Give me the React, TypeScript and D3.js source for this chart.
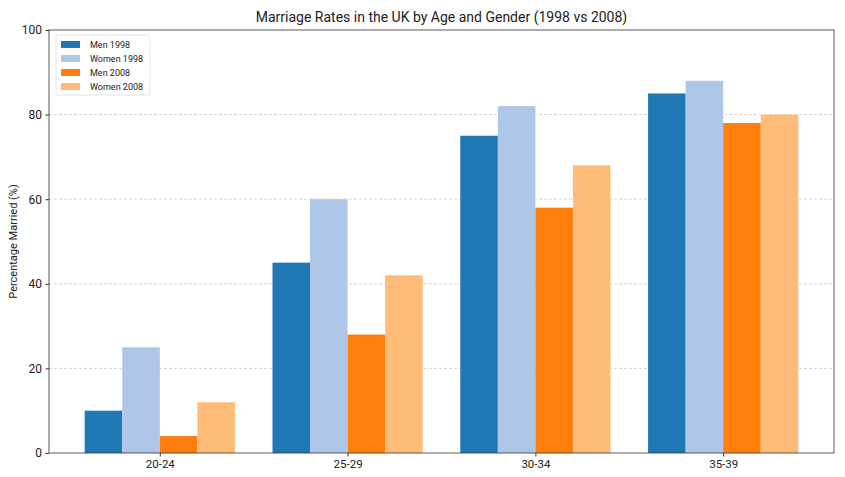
import React, { useEffect, useRef } from "react";
import * as d3 from "d3";

const ageGroups = ["20-24", "25-29", "30-34", "35-39"];
const seriesNames = ["Men 1998", "Women 1998", "Men 2008", "Women 2008"];
const men1998 = [10, 45, 75, 85];
const women1998 = [25, 60, 82, 88];
const men2008 = [4, 28, 58, 78];
const women2008 = [12, 42, 68, 80];
const yTicks = [0, 20, 40, 60, 80, 100];
const colors = ["#1f77b4", "#aec7e8", "#ff7f0e", "#ffbb78"];

const FONT = "Roboto, 'DejaVu Sans', sans-serif";

const App = () => {
  const svgRef = useRef<SVGSVGElement | null>(null);

  useEffect(() => {
    if (!svgRef.current) return;
    const root = d3.select(svgRef.current);
    root.selectAll("*").remove();

    const W = 845;
    const H = 477;
    const margin = { top: 30, right: 11, bottom: 24, left: 49 };
    const width = W - margin.left - margin.right;
    const height = H - margin.top - margin.bottom;

    const series = [men1998, women1998, men2008, women2008];
    const barW = 0.2;

    const x = d3.scaleLinear().domain([-0.59, 3.59]).range([0, width]);
    const y = d3.scaleLinear().domain([0, 100]).range([height, 0]);

    const g = root.append("g").attr("transform", `translate(${margin.left},${margin.top})`);

    // grid
    g.selectAll("line.grid")
      .data(yTicks.filter(t => t > 0 && t < 100))
      .enter()
      .append("line")
      .attr("x1", 0)
      .attr("x2", width)
      .attr("y1", d => y(d))
      .attr("y2", d => y(d))
      .attr("stroke", "#cccccc")
      .attr("stroke-width", 0.8)
      .attr("stroke-dasharray", "3,2");

    // bars
    series.forEach((vals, si) => {
      const offset = (si - 1.5) * barW;
      g.selectAll(`rect.s${si}`)
        .data(vals)
        .enter()
        .append("rect")
        .attr("x", (_, i) => x(i + offset - barW / 2))
        .attr("y", d => y(d))
        .attr("width", x(barW) - x(0))
        .attr("height", d => height - y(d))
        .attr("fill", colors[si]);
    });

    // frame
    g.append("rect")
      .attr("width", width)
      .attr("height", height)
      .attr("fill", "none")
      .attr("stroke", "#333")
      .attr("stroke-width", 0.8);

    // y axis
    const yAxis = g.append("g").call(d3.axisLeft(y).tickValues(yTicks).tickSize(3.5).tickPadding(3.5));
    yAxis.select(".domain").remove();
    yAxis.selectAll("line").attr("stroke", "#333");
    yAxis.selectAll("text").style("font-family", FONT).style("font-size", "12px").attr("fill", "#222");

    // x axis
    const xAxis = g.append("g")
      .attr("transform", `translate(0,${height})`)
      .call(d3.axisBottom(x).tickValues(ageGroups.map((_, i) => i)).tickFormat((_, i) => ageGroups[i]).tickSize(3.5).tickPadding(3.5));
    xAxis.select(".domain").remove();
    xAxis.selectAll("line").attr("stroke", "#333");
    xAxis.selectAll("text").style("font-family", FONT).style("font-size", "11.5px").attr("fill", "#222");

    // title
    root.append("text")
      .attr("x", margin.left + width / 2)
      .attr("y", 22)
      .attr("text-anchor", "middle")
      .style("font-family", FONT)
      .style("font-size", "14px")
      .attr("fill", "#222")
      .text("Marriage Rates in the UK by Age and Gender (1998 vs 2008)");

    // axis labels
    root.append("text")
      .attr("transform", `translate(17,${margin.top + height / 2}) rotate(-90)`)
      .attr("text-anchor", "middle")
      .style("font-family", FONT)
      .style("font-size", "11px")
      .attr("fill", "#222")
      .text("Percentage Married (%)");

    root.append("text")
      .attr("x", margin.left + width / 2)
      .attr("y", 484)
      .attr("text-anchor", "middle")
      .style("font-family", FONT)
      .style("font-size", "11px")
      .attr("fill", "#222")
      .text("Age Group");

    // legend
    const legend = g.append("g").attr("transform", "translate(7,5)");
    legend.append("rect")
      .attr("width", 94)
      .attr("height", 60)
      .attr("rx", 2)
      .attr("fill", "#fff")
      .attr("fill-opacity", 0.8)
      .attr("stroke", "#ddd")
      .attr("stroke-width", 0.8);
    seriesNames.forEach((name, i) => {
      const row = legend.append("g").attr("transform", `translate(5,${6 + i * 14})`);
      row.append("rect").attr("width", 19).attr("height", 7).attr("fill", colors[i]);
      row.append("text")
        .attr("x", 29)
        .attr("y", 7)
        .style("font-family", FONT)
        .style("font-size", "9px")
        .attr("fill", "#222")
        .text(name);
    });
  }, []);

  return (
    <div style={{ margin: -8, width: 845, height: 477, overflow: "hidden", background: "#fff" }}>
      <svg ref={svgRef} width={845} height={477}></svg>
    </div>
  );
};

export default App;
